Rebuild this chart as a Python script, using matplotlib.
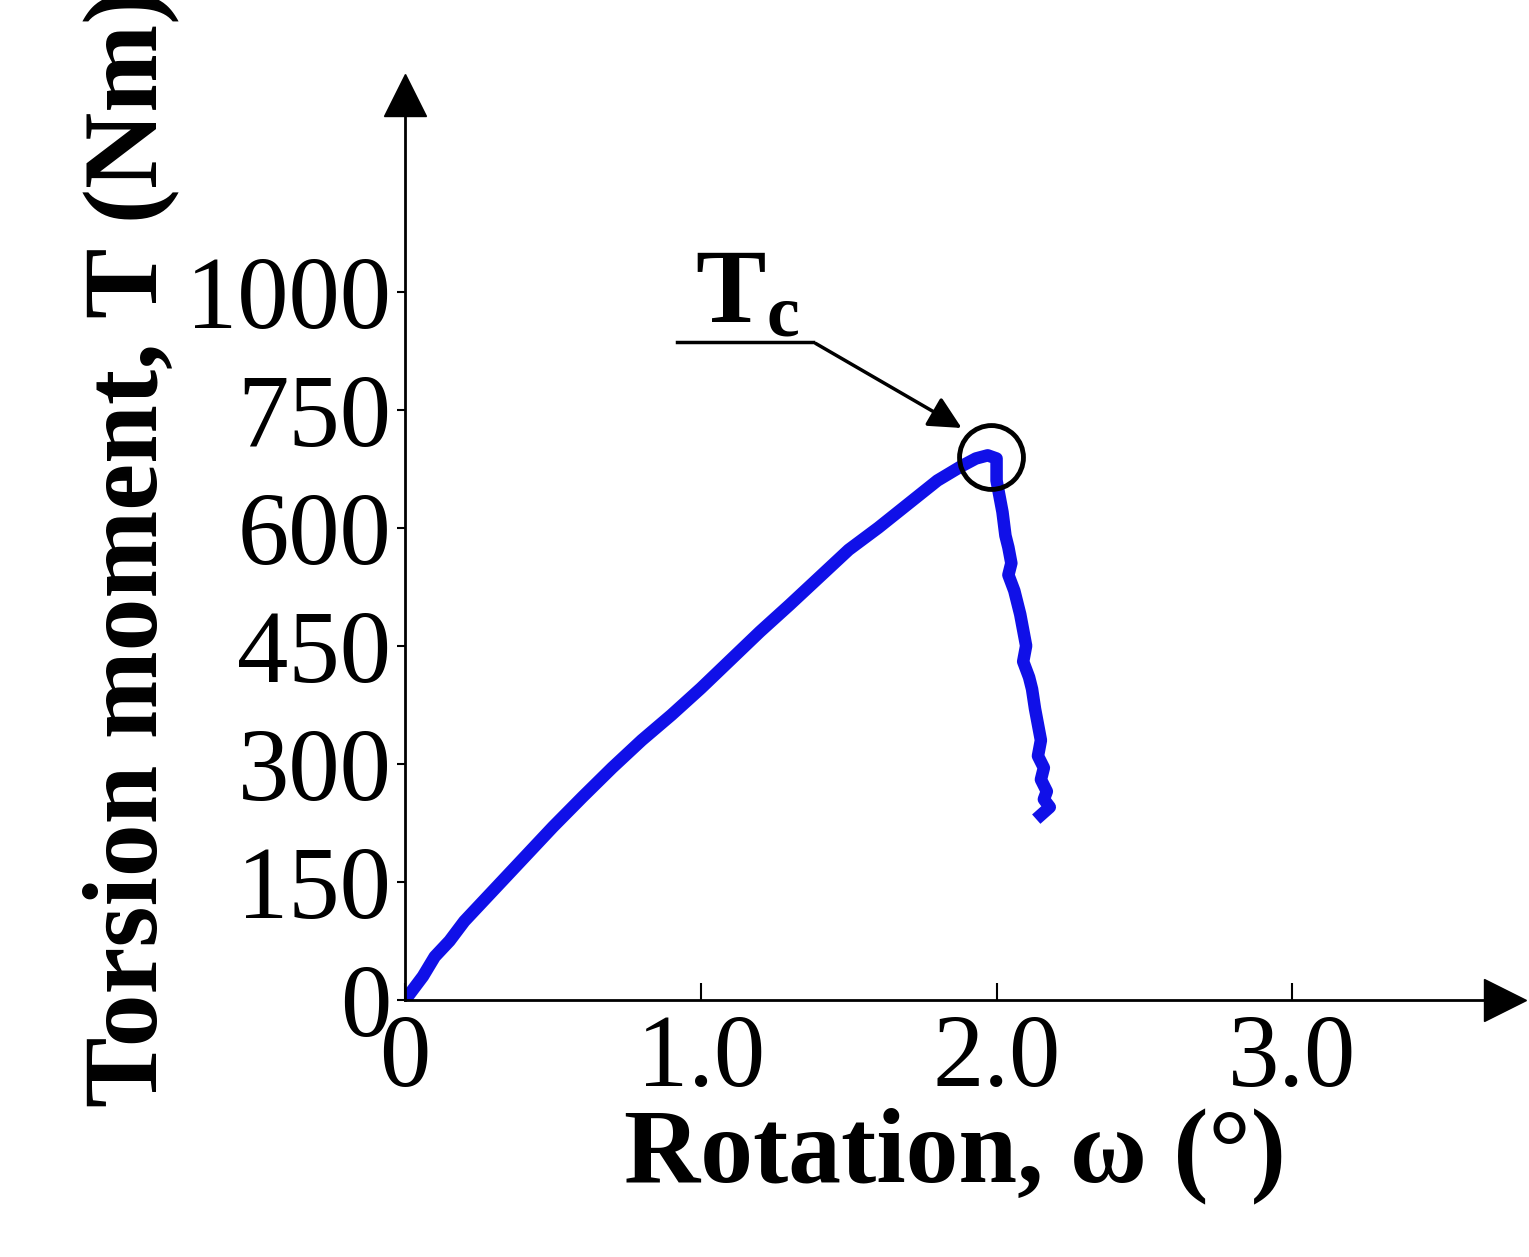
import matplotlib
matplotlib.use("Agg")
import matplotlib.pyplot as plt

rot = [0.0,0.03,0.06,0.1,0.15,0.2,0.3,0.4,0.5,0.6,0.7,0.8,0.9,1.0,1.1,1.2,1.3,1.4,1.5,1.6,1.7,1.8,1.88,1.93,1.97,2.0,2.0,2.02,2.03,2.04,2.05,2.04,2.06,2.07,2.08,2.09,2.1,2.09,2.11,2.12,2.13,2.14,2.15,2.14,2.16,2.15,2.17,2.16,2.18,2.15]
torque = [0,15,30,55,75,100,140,180,220,258,295,330,362,396,432,468,502,537,572,600,630,660,678,688,692,688,660,620,590,575,555,540,520,505,490,470,450,430,410,395,370,350,330,310,295,280,265,255,245,235]

yticks_pos = [0,150,300,450,600,750,900]
ytick_labels = ["0","150","300","450","600","750","1000"]
xticks_pos = [0,1,2,3]
xtick_labels = ["0","1.0","2.0","3.0"]

plt.rcParams['font.family'] = ['Liberation Serif', 'DejaVu Serif']
plt.rcParams['mathtext.fontset'] = 'custom'
plt.rcParams['mathtext.bf'] = 'Liberation Serif:bold'
plt.rcParams['mathtext.rm'] = 'Liberation Serif'
fig = plt.figure(figsize=(15.29,12.57), dpi=100)
ax = fig.add_axes([0.265,0.2045,0.7194,0.72])
ax.set_xlim(0,3.72); ax.set_ylim(0,1150)
for s in ['top','right']: ax.spines[s].set_visible(False)
for s in ['left','bottom']: ax.spines[s].set_linewidth(2)
ax.plot(1,0,'>',color='k',ms=30,transform=ax.transAxes,clip_on=False)
ax.plot(0,1,'^',color='k',ms=30,transform=ax.transAxes,clip_on=False)
ax.set_xticks(xticks_pos); ax.set_xticklabels(xtick_labels)
ax.set_yticks(yticks_pos); ax.set_yticklabels(ytick_labels)
ax.tick_params(axis='x', direction='in', length=12, width=1.5, labelsize=74, pad=10)
ax.tick_params(axis='y', direction='out', length=6, width=1.5, labelsize=74, pad=4)
ax.plot(rot, torque, color='#1010e8', lw=9, solid_joinstyle='round')
ax.set_xlabel("Rotation, ω (°)", fontsize=76, fontweight='bold', labelpad=0)
ax.set_ylabel("Torsion moment, T (Nm)", fontsize=76, fontweight='bold', labelpad=5)
ax.plot([1.98],[690], 'o', ms=46, mfc='none', mec='k', mew=3.5)
ax.plot([0.92,1.38],[836,836], color='k', lw=2.5, clip_on=False)
ax.annotate("", xy=(1.89,725), xytext=(1.38,836),
            arrowprops=dict(arrowstyle='-|>', color='k', lw=2.5, mutation_scale=50))
ax.text(0.98,860,r"$\mathbf{T_c}$", fontsize=76)
fig.savefig("out.png", dpi=100)
